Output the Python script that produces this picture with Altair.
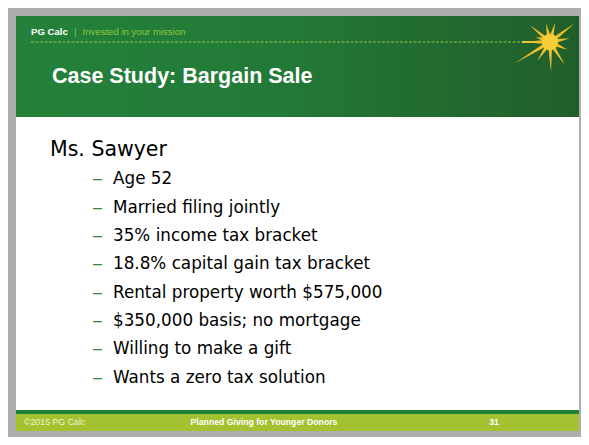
import math
import altair as alt
import pandas as pd

# ---- slide content ----
brand = "PG Calc"
tagline = "Invested in your mission"
title = "Case Study: Bargain Sale"
heading = "Ms. Sawyer"
bullets = [
    "Age 52",
    "Married filing jointly",
    "35% income tax bracket",
    "18.8% capital gain tax bracket",
    "Rental property worth $575,000",
    "$350,000 basis; no mortgage",
    "Willing to make a gift",
    "Wants a zero tax solution",
]
footer_left = "\u00a92015 PG Calc"
footer_center = "Planned Giving for Younger Donors"
page_number = "31"

# ---- layout ----
W, H = 573, 429
OFF = 8


def px(v):
    return v - OFF


one = pd.DataFrame({"k": [0]})
FONT = "Liberation Sans"
BODY_FONT = "DejaVu Sans"


def rect(x1, y1, x2, y2, color):
    return alt.Chart(one).mark_rect(color=color).encode(
        x=alt.value(px(x1)), x2=alt.value(px(x2)),
        y=alt.value(px(y1)), y2=alt.value(px(y2)))


def label(txt, x, y, size, color, weight="normal", align="left", baseline="middle", font=FONT):
    return alt.Chart(one).mark_text(
        text=txt, font=font, fontSize=size, fontWeight=weight, color=color,
        align=align, baseline=baseline).encode(x=alt.value(px(x)), y=alt.value(px(y)))


header_grad = alt.LinearGradient(
    gradient="linear", x1=0, x2=1, y1=0, y2=0,
    stops=[alt.GradientStop(color="#238139", offset=0),
           alt.GradientStop(color="#237a38", offset=0.45),
           alt.GradientStop(color="#215e2a", offset=1)])

layers = [
    rect(16, 16, 579, 117, header_grad),
    rect(16, 117, 579, 410, "#ffffff"),
    rect(16, 410, 579, 414, "#1f7f38"),
    rect(16, 414, 579, 431, "#a3c22f"),
    alt.Chart(one).mark_rule(color="#8dc63f", strokeDash=[3, 1.5], strokeWidth=1).encode(
        x=alt.value(px(31)), x2=alt.value(px(530)), y=alt.value(px(42))),
    alt.Chart(one).mark_rule(color="#e6c84a", strokeWidth=2).encode(
        x=alt.value(px(522)), x2=alt.value(px(548)), y=alt.value(px(42))),
]

# starburst
rays = [(-160, 15), (-140, 26), (-102, 19), (-75, 20), (-37, 31), (-11, 20),
        (24, 19), (57, 27), (88, 30), (124, 23), (149, 41), (180, 28)]
R = 42.0
pts = []
for a, L in rays:
    for ang, r in ((a - 12, 8 / R), (a, L / R), (a + 12, 8 / R)):
        t = math.radians(ang)
        pts.append((r * math.cos(t), r * math.sin(t)))
star_path = "M" + " L".join(f"{x:.3f},{y:.3f}" for x, y in pts) + " Z"
layers += [
    alt.Chart(one).mark_point(shape=star_path, filled=True, color="#efbf2b",
                              opacity=1, strokeWidth=0, size=(2 * R) ** 2).encode(
        x=alt.value(px(550)), y=alt.value(px(42))),
    alt.Chart(one).mark_circle(color="#f6ce38", opacity=1, size=260).encode(
        x=alt.value(px(550)), y=alt.value(px(42))),
]

# header texts
layers += [
    label(brand, 31, 32, 9.6, "#ffffff", weight="bold"),
    label("|", 74, 32, 9.6, "#8dc63f"),
    label(tagline, 82.5, 32, 9.6, "#8dc63f"),
    label(title, 52, 83, 21.5, "#ffffff", weight="bold", baseline="alphabetic"),
]

# body
body = pd.DataFrame({"text": bullets, "row": list(range(1, len(bullets) + 1)), "level": 1})
head = pd.DataFrame({"text": [heading], "row": [0], "level": [0]})
yscale = alt.Scale(domain=[1, 8], range=[px(184.3), px(382.7)], nice=False, zero=False)
xscale = alt.Scale(domain=[0, 1], range=[px(50), px(113)], nice=False, zero=False)

layers += [
    alt.Chart(head).mark_text(font=BODY_FONT, fontSize=20.5, color="#000000",
                              align="left", baseline="alphabetic").encode(
        x=alt.X("level:Q", scale=xscale, axis=None),
        y=alt.Y("row:Q", scale=yscale, axis=None),
        text="text:N"),
    alt.Chart(body).mark_text(font=BODY_FONT, fontSize=16.8, color="#000000",
                              align="left", baseline="alphabetic").encode(
        x=alt.X("level:Q", scale=xscale, axis=None),
        y=alt.Y("row:Q", scale=yscale, axis=None),
        text="text:N"),
    alt.Chart(body).mark_text(text="\u2013", font=FONT, fontSize=16, color="#2e8b3c",
                              align="left", baseline="alphabetic").encode(
        x=alt.value(px(93)),
        y=alt.Y("row:Q", scale=yscale, axis=None)),
]

# footer
layers += [
    label(footer_left, 24, 422, 8.8, "#eef3d6"),
    label(footer_center, 264, 422, 8.7, "#ffffff", weight="bold", align="center"),
    label(page_number, 494, 422, 8.7, "#ffffff", weight="bold", align="center"),
]

chart = alt.layer(*layers).properties(
    width=W, height=H, background="#adadad", padding=0,
    autosize=alt.AutoSizeParams(type="none"),
).configure_view(stroke=None)

chart.save("out.html", embed_options={"renderer": "svg", "actions": False})
